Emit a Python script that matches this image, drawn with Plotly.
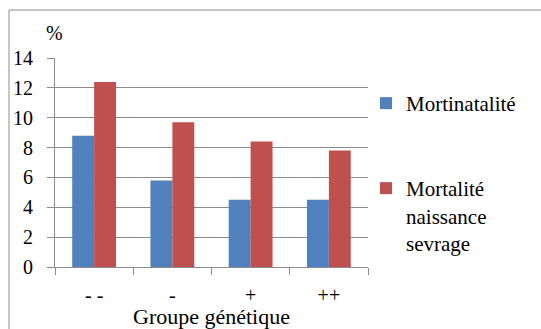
import plotly.graph_objects as go

# Genetic groups and mortality rates (%)
groupes = ["- -", "-", "+", "++"]
mortinatalite = [8.8, 5.8, 4.5, 4.5]
mortalite_sevrage = [12.4, 9.7, 8.4, 7.8]

serie_1 = "Mortinatalité"
serie_2 = "Mortalité<br>naissance<br>sevrage"

BLUE = "#4F81BD"
RED = "#C0504D"
GRID = "#8C8C8C"
FONT = "Liberation Serif, DejaVu Serif, Times New Roman, serif"

fig = go.Figure()
fig.add_trace(go.Bar(x=groupes, y=mortinatalite, name=serie_1,
                     marker=dict(color=BLUE, line=dict(width=0)),
                     legend="legend", showlegend=True))
fig.add_trace(go.Bar(x=groupes, y=mortalite_sevrage, name=serie_2,
                     marker=dict(color=RED, line=dict(width=0)),
                     legend="legend2", showlegend=True))

W, H = 541, 329
ml, mr, mt, mb = 55, 173, 58, 62
pw, ph = W - ml - mr, H - mt - mb

def px_x(p):
    return (p - ml) / pw

def px_y(p):
    return (H - mb - p) / ph

legend_font = dict(family=FONT, size=21, color="black")

fig.update_layout(
    width=W, height=H,
    margin=dict(l=ml, r=mr, t=mt, b=mb, autoexpand=False),
    paper_bgcolor="white", plot_bgcolor="white",
    font=dict(family=FONT, size=20, color="black"),
    showlegend=True,
    barmode="group", bargap=0.44, bargroupgap=0,
    legend=dict(x=px_x(366), y=px_y(83), xanchor="left", yanchor="top",
                font=legend_font, bgcolor="rgba(0,0,0,0)", valign="top",
                visible=True),
    legend2=dict(x=px_x(366), y=px_y(168), xanchor="left", yanchor="top",
                 font=legend_font, bgcolor="rgba(0,0,0,0)", valign="top",
                 visible=True),
    xaxis=dict(
        type="category", tickson="boundaries", ticks="outside", ticklen=7,
        tickcolor=GRID, showline=True, linecolor=GRID, linewidth=1,
        showgrid=False, ticklabelstandoff=10, automargin=False,
        tickfont=dict(family=FONT, size=20),
        title=dict(text="Groupe génétique", standoff=2,
                   font=dict(family=FONT, size=22)),
    ),
    yaxis=dict(
        range=[0, 14], dtick=2, ticks="outside", ticklen=7, tickcolor=GRID,
        showline=True, linecolor=GRID, linewidth=1, automargin=False,
        showgrid=True, gridcolor=GRID, gridwidth=1, zeroline=False,
        ticklabelstandoff=10, tickfont=dict(family=FONT, size=20),
    ),
    shapes=[dict(type="rect", xref="paper", yref="paper",
                 x0=px_x(9), x1=px_x(560), y0=px_y(350), y1=px_y(10),
                 line=dict(color=GRID, width=1), fillcolor="rgba(0,0,0,0)",
                 layer="below")],
    annotations=[dict(text="%", xref="paper", yref="paper",
                      x=px_x(54), y=px_y(33), xanchor="center",
                      yanchor="middle", showarrow=False,
                      font=dict(family=FONT, size=20))],
)

fig.write_html("out.html")
